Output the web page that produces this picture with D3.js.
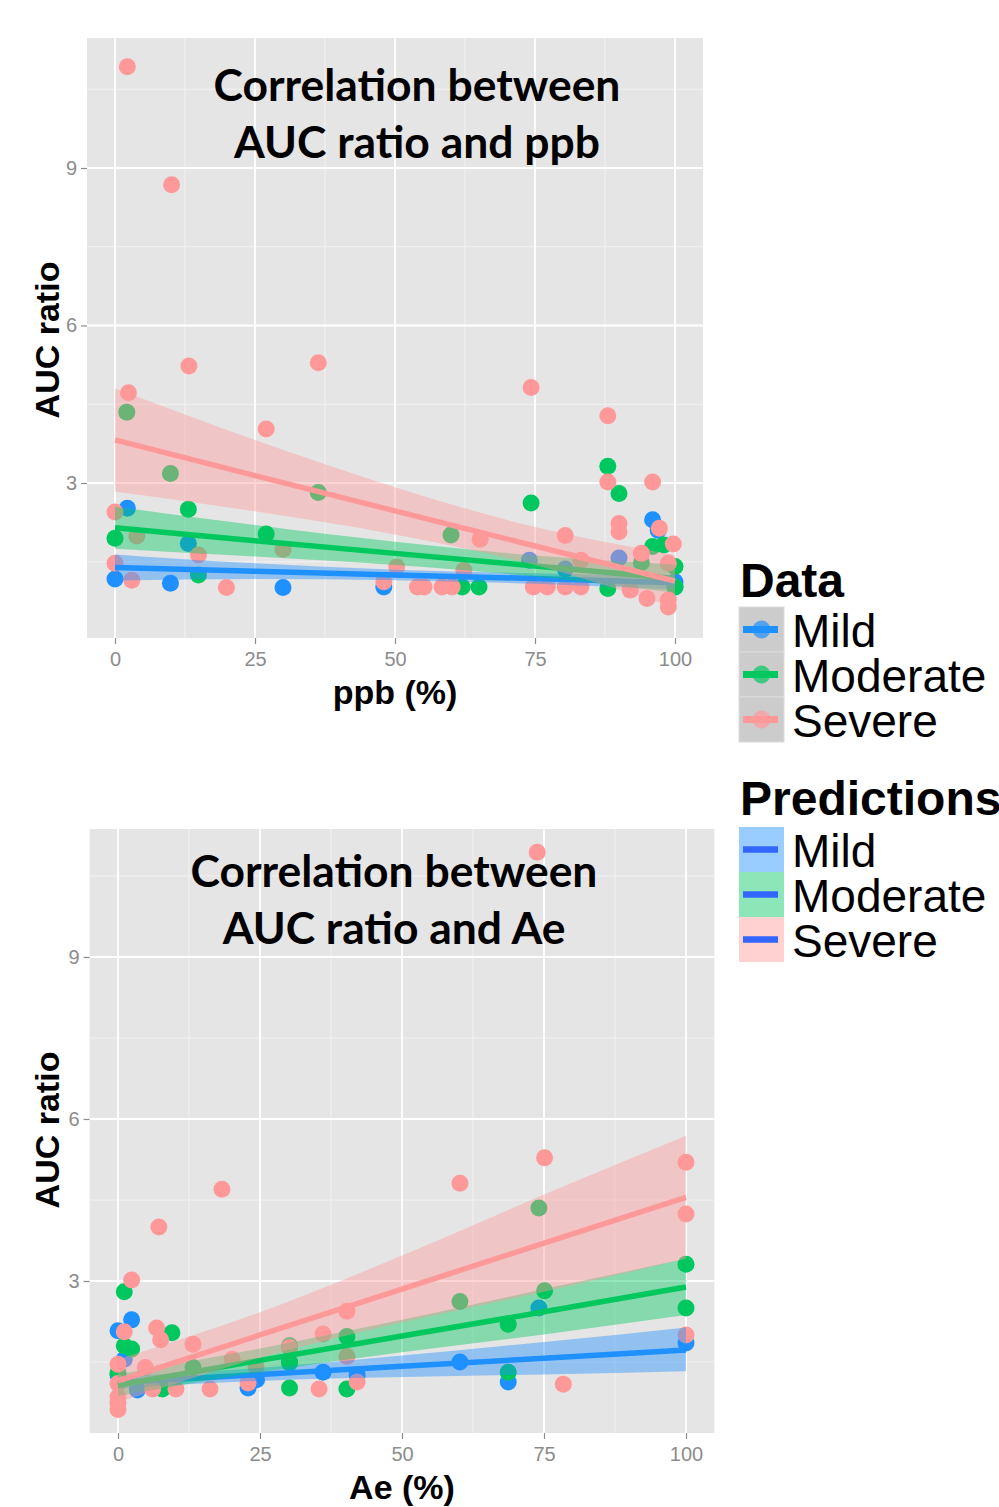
<!DOCTYPE html>
<html>
<head>
<meta charset="utf-8">
<script src="https://cdn.jsdelivr.net/npm/d3@7"></script>
<style>
body { margin: 0; background: #fff; }
svg { display: block; }
</style>
</head>
<body>
<svg id="chart" width="999" height="1507"></svg>
<script>
// series names and colours
var groups = ["Mild", "Moderate", "Severe"];
var colors = ["#1e90ff", "#00c85f", "#ff9999"];

// ppb panel: measured points [x, AUC ratio]
var ppbMild = [[0,1.17],[2.2,2.52],[9.9,1.09],[13.1,1.85],[30,1.01],[48,1.02],[74,1.53],[80.4,1.36],
	[90,1.57],[96,2.3],[97,2.1],[100,1.12],[100,1.02]];
var ppbModerate = [[2.1,4.35],[9.9,3.18],[13.1,2.5],[0,1.95],[27,2.03],[14.9,1.25],[36.3,2.82],[60,2.01],
	[62,1.02],[65,1.02],[74.3,2.62],[88,3.32],[90,2.8],[88,0.99],[96,1.79],[98,1.82],[94,1.48],[100,1.41],[100,1.02]];
var ppbSevere = [[2.2,10.93],[10.1,8.68],[13.2,5.23],[36.3,5.29],[2.4,4.72],[27,4.03],[74.3,4.82],[88,4.28],
	[88,3.02],[96,3.02],[0,2.45],[90,2.23],[90,2.07],[97.2,2.14],[99.7,1.84],[80.4,2.0],[65.2,1.93],[3.9,1.99],
	[30,1.74],[14.9,1.63],[94,1.66],[0,1.47],[98.8,1.47],[3,1.15],[19.9,1.01],[48,1.12],[50.3,1.4],[54,1.02],
	[55.2,1.02],[58.4,1.02],[60.2,1.02],[62.3,1.34],[74.7,1.02],[77.2,1.02],[80.4,1.02],[83.2,1.02],[83.2,1.53],
	[92,0.96],[95,0.8],[98.8,0.77],[98.8,0.64]];

// Ae panel: measured points
var aeMild = [[2.4,2.28],[0,2.08],[1.1,1.55],[74.1,2.5],[100,1.85],[60.2,1.5],[36.1,1.31],[24.4,1.17],
	[22.9,1.02],[68.7,1.13],[0,1.26],[30.2,1.5],[42.1,1.26],[3.4,0.98]];
var aeModerate = [[74.1,4.35],[100,3.31],[100,2.5],[75.1,2.82],[60.2,2.62],[68.7,2.2],[1.1,2.8],[9.5,2.04],
	[1.1,1.8],[2.4,1.74],[40.3,1.97],[30.2,1.8],[30.2,1.48],[30.2,1.02],[40.3,1.0],[7.8,1.0],[13.2,1.4],[68.7,1.31],[0,1.3]];
var aeSevere = [[73.8,10.94],[75.1,5.28],[100,5.2],[60.2,4.81],[18.3,4.7],[100,4.24],[7.2,4.0],[2.4,3.02],
	[40.3,2.44],[1.1,2.06],[6.8,2.13],[7.5,1.91],[36.1,2.02],[100,2.0],[13.2,1.83],[30.2,1.77],[40.3,1.6],
	[20.1,1.55],[0,1.46],[4.8,1.4],[24.3,1.41],[78.4,1.09],[16.2,1.0],[35.4,1.0],[10.2,1.0],[6.1,1.0],
	[42.1,1.13],[22.9,1.11],[0,1.1],[0,0.85],[0,0.74],[0,0.62]];

// fitted lines and confidence band, read at these x values
var fitX = [0, 25, 50, 75, 100];
var ppbMildFit = [1.39,1.32,1.25,1.18,1.1], ppbMildLo = [1.14,1.17,1.15,1.08,0.97], ppbMildHi = [1.64,1.47,1.35,1.28,1.23];
var ppbModFit = [2.15,1.9,1.66,1.42,1.18], ppbModLo = [1.75,1.6,1.44,1.22,0.91], ppbModHi = [2.55,2.2,1.88,1.62,1.45];
var ppbSevFit = [3.82,3.14,2.47,1.8,1.13], ppbSevLo = [2.84,2.46,2.02,1.44,0.63], ppbSevHi = [4.8,3.82,2.92,2.16,1.63];
var aeMildFit = [1.12,1.27,1.42,1.57,1.72], aeMildLo = [1.01,1.15,1.22,1.27,1.33], aeMildHi = [1.23,1.39,1.62,1.87,2.14];
var aeModFit = [1.07,1.53,1.98,2.43,2.89], aeModLo = [0.87,1.31,1.68,2.01,2.37], aeModHi = [1.27,1.75,2.28,2.85,3.41];
var aeSevFit = [1.15,2.0,2.85,3.7,4.55], aeSevLo = [0.75,1.58,2.23,2.8,3.41], aeSevHi = [1.55,2.42,3.47,4.6,5.69];

// axis ticks
var xTicks = [0, 25, 50, 75, 100], xMinor = [12.5, 37.5, 62.5, 87.5];
var yTicks = [3, 6, 9], yMinor = [1.5, 4.5, 7.5, 10.5];

var panels = [
	{
		title: ["Correlation between", "AUC ratio and ppb"], xlab: "ppb (%)",
		left: 87, right: 703, top: 38, bottom: 638, ydom: [0.048, 11.476],
		titleX: 417, titleY: [101, 158], xlabY: 704, ylabY: 340,
		points: [ppbMild, ppbModerate, ppbSevere],
		fits: [[ppbMildFit, ppbMildLo, ppbMildHi], [ppbModFit, ppbModLo, ppbModHi], [ppbSevFit, ppbSevLo, ppbSevHi]]
	},
	{
		title: ["Correlation between", "AUC ratio and Ae"], xlab: "Ae (%)",
		left: 89.6, right: 714.4, top: 829, bottom: 1433, ydom: [0.185, 11.37],
		titleX: 394, titleY: [887, 944], xlabY: 1499, ylabY: 1130,
		points: [aeMild, aeModerate, aeSevere],
		fits: [[aeMildFit, aeMildLo, aeMildHi], [aeModFit, aeModLo, aeModHi], [aeSevFit, aeSevLo, aeSevHi]]
	}
];

var svg = d3.select("#chart");
var font = "'Liberation Sans', Arial, sans-serif";

panels.forEach(function(p, pi) {
	var x = d3.scaleLinear().domain([-5, 105]).range([p.left, p.right]);
	var y = d3.scaleLinear().domain(p.ydom).range([p.bottom, p.top]);
	var g = svg.append("g");

	var clipId = "clip" + pi;
	g.append("clipPath").attr("id", clipId)
		.append("rect")
		.attr("x", p.left).attr("y", p.top)
		.attr("width", p.right - p.left).attr("height", p.bottom - p.top);

	g.append("rect")
		.attr("x", p.left).attr("y", p.top)
		.attr("width", p.right - p.left).attr("height", p.bottom - p.top)
		.attr("fill", "#e5e5e5");

	// minor grid
	g.selectAll(".vminor").data(xMinor).enter().append("line")
		.attr("x1", x).attr("x2", x).attr("y1", p.top).attr("y2", p.bottom)
		.attr("stroke", "#f2f2f2").attr("stroke-width", 1);
	g.selectAll(".hminor").data(yMinor).enter().append("line")
		.attr("x1", p.left).attr("x2", p.right).attr("y1", y).attr("y2", y)
		.attr("stroke", "#f2f2f2").attr("stroke-width", 1);
	// major grid
	g.selectAll(".vmajor").data(xTicks).enter().append("line")
		.attr("x1", x).attr("x2", x).attr("y1", p.top).attr("y2", p.bottom)
		.attr("stroke", "#fff").attr("stroke-width", 1.8);
	g.selectAll(".hmajor").data(yTicks).enter().append("line")
		.attr("x1", p.left).attr("x2", p.right).attr("y1", y).attr("y2", y)
		.attr("stroke", "#fff").attr("stroke-width", 1.8);

	var plot = g.append("g").attr("clip-path", "url(#" + clipId + ")");

	// points
	p.points.forEach(function(pts, i) {
		plot.append("g").selectAll("circle").data(pts).enter().append("circle")
			.attr("cx", function(d) { return x(d[0]); })
			.attr("cy", function(d) { return y(d[1]); })
			.attr("r", 8.5)
			.attr("fill", colors[i]);
	});

	// bands and fitted lines, group by group
	p.fits.forEach(function(f, i) {
		var rows = fitX.map(function(v, k) { return {x: v, fit: f[0][k], lo: f[1][k], hi: f[2][k]}; });
		plot.append("path").datum(rows)
			.attr("d", d3.area().curve(d3.curveMonotoneX)
				.x(function(d) { return x(d.x); })
				.y0(function(d) { return y(d.lo); })
				.y1(function(d) { return y(d.hi); }))
			.attr("fill", colors[i]).attr("fill-opacity", 0.42);
		plot.append("path").datum(rows)
			.attr("d", d3.line()
				.x(function(d) { return x(d.x); })
				.y(function(d) { return y(d.fit); }))
			.attr("fill", "none").attr("stroke", colors[i]).attr("stroke-width", 5.5);
	});

	// axes
	var xa = g.append("g").attr("transform", "translate(0," + p.bottom + ")")
		.call(d3.axisBottom(x).tickValues(xTicks).tickSize(6).tickPadding(8));
	var ya = g.append("g").attr("transform", "translate(" + p.left + ",0)")
		.call(d3.axisLeft(y).tickValues(yTicks).tickSize(6).tickPadding(4));
	[xa, ya].forEach(function(a) {
		a.select(".domain").remove();
		a.selectAll("line").attr("stroke", "#8c8c8c").attr("stroke-width", 1.2);
		a.selectAll("text").attr("fill", "#8c8c8c").style("font-family", font).style("font-size", "20px");
	});

	// axis titles
	g.append("text")
		.attr("x", (x(0) + x(100)) / 2).attr("y", p.xlabY)
		.attr("text-anchor", "middle")
		.style("font-family", font).style("font-weight", "bold").style("font-size", "34px")
		.text(p.xlab);
	g.append("text")
		.attr("transform", "translate(59," + p.ylabY + ") rotate(-90)")
		.attr("text-anchor", "middle")
		.style("font-family", font).style("font-weight", "bold").style("font-size", "34px")
		.text("AUC ratio");

	// title inside the panel
	var t1 = g.append("text").attr("x", p.titleX).attr("y", p.titleY[0])
		.attr("text-anchor", "middle")
		.style("font-family", "Lato, 'Open Sans', sans-serif").style("font-weight", "bold").style("font-size", "40px")
		.text(p.title[0]);
	var size = 40 * 407 / t1.node().getComputedTextLength();
	t1.style("font-size", size + "px");
	g.append("text").attr("x", p.titleX).attr("y", p.titleY[1])
		.attr("text-anchor", "middle")
		.style("font-family", "Lato, 'Open Sans', sans-serif").style("font-weight", "bold").style("font-size", size + "px")
		.text(p.title[1]);
});

// legends
var leg = svg.append("g");
var keyX = 739, keyW = 45, keyH = 45;

leg.append("text").attr("x", 740).attr("y", 597)
	.style("font-family", font).style("font-weight", "bold").style("font-size", "48px")
	.text("Data");
groups.forEach(function(name, i) {
	var top = 607 + i * keyH;
	leg.append("rect").attr("x", keyX).attr("y", top).attr("width", keyW).attr("height", keyH)
		.attr("fill", "#cccccc").attr("stroke", "#dcdcdc").attr("stroke-width", 1);
	leg.append("circle").attr("cx", keyX + keyW / 2).attr("cy", top + keyH / 2).attr("r", 9)
		.attr("fill", colors[i]).attr("fill-opacity", 0.7);
	leg.append("line").attr("x1", keyX + 4).attr("x2", keyX + keyW - 6)
		.attr("y1", top + keyH / 2).attr("y2", top + keyH / 2)
		.attr("stroke", colors[i]).attr("stroke-width", 7);
	leg.append("text").attr("x", 792).attr("y", top + keyH / 2 + 17)
		.style("font-family", font).style("font-size", "46px")
		.text(name);
});

leg.append("text").attr("x", 740).attr("y", 815)
	.style("font-family", font).style("font-weight", "bold").style("font-size", "48px")
	.text("Predictions");
groups.forEach(function(name, i) {
	var top = 827 + i * keyH;
	leg.append("rect").attr("x", keyX).attr("y", top).attr("width", keyW).attr("height", keyH)
		.attr("fill", "#fff");
	leg.append("rect").attr("x", keyX).attr("y", top).attr("width", keyW).attr("height", keyH)
		.attr("fill", colors[i]).attr("fill-opacity", 0.45);
	leg.append("line").attr("x1", keyX + 4).attr("x2", keyX + keyW - 6)
		.attr("y1", top + keyH / 2).attr("y2", top + keyH / 2)
		.attr("stroke", "#3366ff").attr("stroke-width", 6.5);
	leg.append("text").attr("x", 792).attr("y", top + keyH / 2 + 17)
		.style("font-family", font).style("font-size", "46px")
		.text(name);
});
</script>
</body>
</html>
